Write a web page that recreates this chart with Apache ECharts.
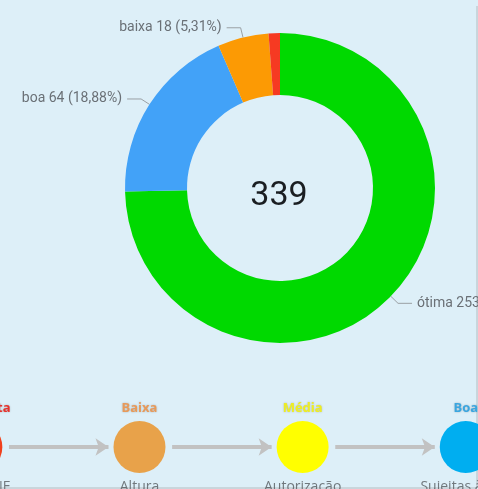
<!DOCTYPE html>
<html>
<head>
<meta charset="utf-8">
<script src="https://cdn.jsdelivr.net/npm/echarts@6/dist/echarts.min.js"></script>
<style>
  html, body { margin: 0; padding: 0; background: #ddeff8; }
  #chart { width: 478px; height: 489px; }
</style>
</head>
<body>
<div id="chart"></div>
<script>
// Donut data
const sliceNames = ['ótima', 'boa', 'baixa', 'muito baixa'];
const sliceValues = [253, 64, 18, 4];
const sliceColors = ['#00d900', '#42a2f8', '#fc9a04', '#f63a22'];
const totalLabel = '339';

// Flow strip at the bottom
const levelNames = ['Muito Alta', 'Baixa', 'Média', 'Boa'];
const levelColors = ['#f0401c', '#e8a24a', '#ffff00', '#00aef0'];
const levelTextColors = ['#e8302a', '#e89a5a', '#eeee22', '#3aa6e0'];
const levelNotes = ['Sem PCNF', 'Altura', 'Autorização', 'Sujeitas à PCT'];

document.addEventListener('DOMContentLoaded', function() {
    const chart = echarts.init(document.getElementById('chart'));

    const pieData = sliceNames.map((name, i) => ({
        name: name,
        value: sliceValues[i],
        itemStyle: { color: sliceColors[i] },
        label: { show: i < 3 },
        labelLine: { show: i < 3 }
    }));

    const steps = levelNames.map((n, i) => i);
    const arrows = steps.slice(0, -1).map(i => ({ coords: [[i + 0.2, 0], [i + 0.81, 0]] }));

    chart.setOption({
        backgroundColor: '#ddeff8',
        animation: false,
        title: {
            text: totalLabel,
            left: 274,
            top: 191,
            textAlign: 'center',
            textVerticalAlign: 'middle',
            textStyle: { fontFamily: 'Roboto', fontSize: 34, fontWeight: 400, color: '#1a1e22' }
        },
        // thin frame at the right and bottom edges
        graphic: [{
            type: 'polyline',
            shape: { points: [[477, 6], [477, 488], [0, 488]] },
            style: { stroke: '#b4bcc0', fill: null, lineWidth: 1 },
            silent: true
        }],
        grid: { left: 0, right: 0, top: 405, bottom: 0 },
        xAxis: { type: 'value', min: 0.145, max: 3.075, show: false },
        yAxis: { type: 'value', min: -1, max: 1, show: false },
        series: [
            {
                type: 'pie',
                center: [280, 188],
                radius: [93, 155],
                startAngle: 90,
                clockwise: true,
                data: pieData,
                label: {
                    color: '#6a7076',
                    fontFamily: 'Roboto',
                    fontSize: 14,
                    overflow: 'none',
                    formatter: p => p.name + ' ' + p.value + ' (' + p.percent.toFixed(2).replace('.', ',') + '%)'
                },
                labelLine: { length: 10, length2: 14, lineStyle: { color: '#9aa0a4', width: 1 } }
            },
            {
                type: 'lines',
                coordinateSystem: 'cartesian2d',
                clip: false,
                symbol: ['none', 'arrow'],
                symbolSize: 13,
                lineStyle: { color: '#c2c2c2', width: 4, opacity: 1 },
                data: arrows
            },
            {
                type: 'scatter',
                clip: false,
                symbolSize: 52,
                itemStyle: { opacity: 1 },
                data: steps.map(i => ({
                    value: [i, 0],
                    itemStyle: { color: levelColors[i] },
                    label: { color: levelTextColors[i] }
                })),
                label: {
                    show: true,
                    position: 'top',
                    distance: 6,
                    fontFamily: 'Open Sans',
                    fontSize: 13,
                    fontWeight: 'bold',
                    textShadowColor: 'rgba(0,0,0,0.25)',
                    textShadowBlur: 2,
                    formatter: p => levelNames[p.dataIndex]
                }
            },
            {
                type: 'scatter',
                clip: false,
                symbolSize: 52,
                itemStyle: { color: 'transparent' },
                data: steps.map(i => [i, 0]),
                label: {
                    show: true,
                    position: 'bottom',
                    distance: 7,
                    fontFamily: 'Open Sans',
                    fontSize: 14,
                    color: '#555a5e',
                    formatter: p => levelNotes[p.dataIndex]
                }
            }
        ]
    });
});
</script>
</body>
</html>
